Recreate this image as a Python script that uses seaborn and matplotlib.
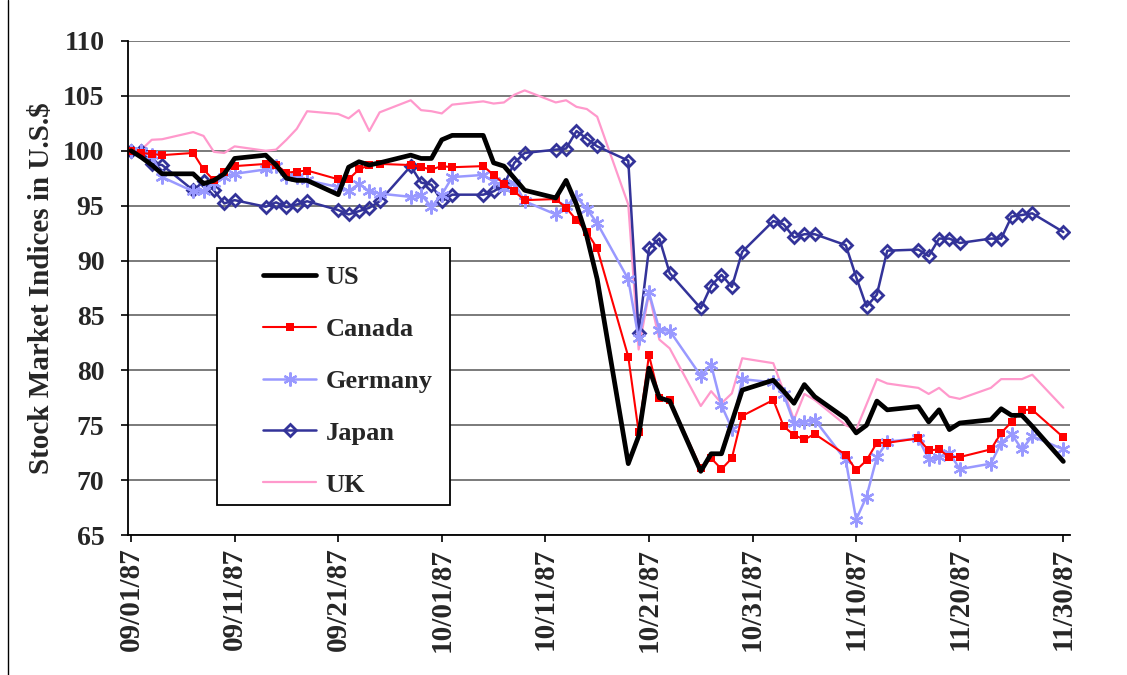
import numpy as np
import pandas as pd
import seaborn as sns
import matplotlib.pyplot as plt
import matplotlib.dates as mdates
from matplotlib.patches import Rectangle
from matplotlib.lines import Line2D

# trading days 09/01/87 - 11/30/87
dates = pd.bdate_range('1987-09-01', '1987-11-30')

us = [100.0, 99.4, 98.7, 97.9,
      97.9, 97.0, 97.3, 97.9, 99.3,
      99.6, 98.7, 97.5, 97.3, 97.3,
      96.0, 98.5, 99.0, 98.7, 98.9,
      99.6, 99.3, 99.3, 101.0, 101.4,
      101.4, 98.9, 98.6, 97.5, 96.4,
      95.7, 97.3, 95.1, 92.2, 88.3,
      71.5, 74.0, 80.2, 77.5, 77.2,
      70.8, 72.4, 72.4, 75.3, 78.2,
      79.1, 78.1, 77.0, 78.7, 77.6,
      75.6, 74.3, 75.0, 77.2, 76.4,
      76.7, 75.3, 76.4, 74.6, 75.2,
      75.5, 76.5, 75.9, 75.9, 74.9,
      71.7]
canada = [100.0, 99.8, 99.7, 99.6,
          99.8, 98.3, 97.3, 98.1, 98.6,
          98.8, 98.7, 98.0, 98.1, 98.2,
          97.4, 97.4, 98.3, 98.7, 98.8,
          98.7, 98.5, 98.3, 98.6, 98.5,
          98.6, 97.8, 97.0, 96.3, 95.5,
          95.6, 94.8, 93.7, 92.6, 91.1,
          81.25, 74.4, 81.4, 77.5, 77.3,
          71.1, 72.0, 71.0, 72.0, 75.85,
          77.3, 74.9, 74.1, 73.7, 74.2,
          72.3, 70.9, 71.8, 73.4, 73.4,
          73.8, 72.7, 72.8, 72.1, 72.1,
          72.8, 74.3, 75.3, 76.4, 76.4,
          73.9]
germany = [100.0, 100.0, 99.6, 97.6,
           96.3, 96.3, 97.1, 97.6, 97.9,
           98.3, 98.6, 97.6, 97.6, 97.3,
           96.7, 96.3, 97.0, 96.3, 96.1,
           95.8, 96.0, 94.9, 96.0, 97.6,
           97.8, 97.2, 96.6, 97.1, 95.4,
           94.2, 95.0, 95.8, 94.7, 93.4,
           88.3, 82.9, 87.1, 83.7, 83.6,
           79.5, 80.5, 76.8, 74.7, 79.2,
           78.9, 77.8, 75.2, 75.3, 75.5,
           71.8, 66.4, 68.5, 72.1, 73.5,
           73.8, 71.9, 72.1, 72.5, 71.0,
           71.5, 73.4, 74.2, 72.8, 74.0,
           72.8]
japan = [100.0, 100.0, 98.8, 98.7,
         96.4, 97.2, 96.4, 95.2, 95.5,
         94.9, 95.3, 94.85, 95.1, 95.4,
         94.6, 94.2, 94.5, 94.8, 95.4,
         98.6, 97.1, 96.9, 95.4, 96.0,
         96.0, 96.3, 96.9, 98.9, 99.8,
         100.1, 100.2, 101.8, 101.1, 100.4,
         99.1, 83.4, 91.1, 92.0, 88.85,
         85.65, 87.7, 88.7, 87.6, 90.8,
         93.6, 93.3, 92.1, 92.4, 92.4,
         91.4, 88.5, 85.8, 86.9, 90.9,
         91.0, 90.4, 92.0, 92.0, 91.6,
         92.0, 92.0, 94.0, 94.15, 94.3,
         92.6]
uk = [100.0, 100.1, 101.0, 101.05,
      101.7, 101.35, 99.9, 99.8, 100.4,
      100.0, 100.1, 101.0, 102.0, 103.6,
      103.35, 102.95, 103.7, 101.8, 103.5,
      104.6, 103.7, 103.6, 103.4, 104.2,
      104.5, 104.3, 104.4, 105.1, 105.5,
      104.4, 104.6, 104.0, 103.8, 103.1,
      95.1, 81.9, 87.0, 82.8, 82.0,
      76.75, 78.1, 77.0, 77.9, 81.1,
      80.65, 78.1, 75.5, 77.85, 77.3,
      75.0, 74.6, 76.9, 79.2, 78.8,
      78.4, 77.85, 78.4, 77.6, 77.4,
      78.4, 79.2, 79.2, 79.2, 79.6,
      76.6]

tick_dates = pd.date_range('1987-09-01', periods=10, freq='10D')

sns.set_style('white')
plt.rcParams['font.family'] = ['Liberation Serif', 'DejaVu Serif']
plt.rcParams['font.weight'] = 'bold'

fig = plt.figure(figsize=(11.27, 6.75), dpi=100)
ax = fig.add_axes([0.1136, 0.2074, 0.8358, 0.7319])

styles = {
    'US': dict(color='black', linewidth=3.4),
    'Canada': dict(color='#ff0000', linewidth=1.5, marker='s', markersize=6,
                   markeredgewidth=0, markeredgecolor='#ff0000'),
    'Germany': dict(color='#9999ff', linewidth=1.8, marker=(6, 2, 0),
                    markersize=10, markeredgewidth=1.6,
                    markeredgecolor='#9999ff'),
    'Japan': dict(color='#333399', linewidth=1.8, marker='D', markersize=6,
                  markerfacecolor='none', markeredgewidth=2.0,
                  markeredgecolor='#333399'),
    'UK': dict(color='#ff99cc', linewidth=1.6),
}
series = {'US': us, 'Canada': canada, 'Germany': germany,
          'Japan': japan, 'UK': uk}
order = ['UK', 'Japan', 'Germany', 'Canada', 'US']
for name in order:
    df = pd.DataFrame({'date': dates, 'value': series[name]})
    sns.lineplot(data=df, x='date', y='value', ax=ax, label=name,
                 legend=False, **styles[name])

ax.set_ylim(65, 110)
ax.set_yticks(np.arange(65, 111, 5))
d0 = mdates.date2num(pd.Timestamp('1987-09-01'))
ax.set_xlim(d0 - 0.29, d0 + 90.64)
ax.set_xticks(tick_dates)
ax.xaxis.set_major_formatter(mdates.DateFormatter('%m/%d/%y'))
ax.grid(axis='y', color='#707070', linewidth=1.3)
ax.grid(axis='x', visible=False)
ax.set_axisbelow(True)

for s in ['top', 'right']:
    ax.spines[s].set_visible(False)
for s in ['left', 'bottom']:
    ax.spines[s].set_color('black')
    ax.spines[s].set_linewidth(1.3)

ax.tick_params(axis='both', direction='out', length=5, width=1.2,
               color='black', left=True, bottom=True)
ax.tick_params(axis='y', labelsize=20, pad=12)
ax.tick_params(axis='x', labelsize=21, pad=4)
for lab in ax.get_xticklabels():
    lab.set_rotation(90)
    lab.set_fontweight('bold')
for lab in ax.get_yticklabels():
    lab.set_fontweight('bold')

ax.set_xlabel('')
ax.set_ylabel('Stock Market Indices in U.S.$', fontsize=21,
              fontweight='bold', labelpad=6)

# legend box
ax.add_patch(Rectangle((217 / 1127, 1 - 505 / 675), 233 / 1127, 257 / 675,
                       transform=fig.transFigure, facecolor='white',
                       edgecolor='black', linewidth=1.3, zorder=4,
                       clip_on=False))
names = ['US', 'Canada', 'Germany', 'Japan', 'UK']
handles = [Line2D([], [], **styles[n]) for n in names]
leg = ax.legend(handles, names,
                loc='center', bbox_to_anchor=(348 / 1127, 1 - 381 / 675),
                bbox_transform=fig.transFigure, frameon=False,
                borderpad=0, handlelength=2.0, handletextpad=0.35,
                labelspacing=1.08, prop={'size': 19, 'weight': 'bold'})
leg.set_zorder(5)

# chart area border
fig.add_artist(Line2D([8 / 1127, 8 / 1127], [0, 1], transform=fig.transFigure,
                      color='black', linewidth=1.0))

fig.savefig('out.png', dpi=100)
